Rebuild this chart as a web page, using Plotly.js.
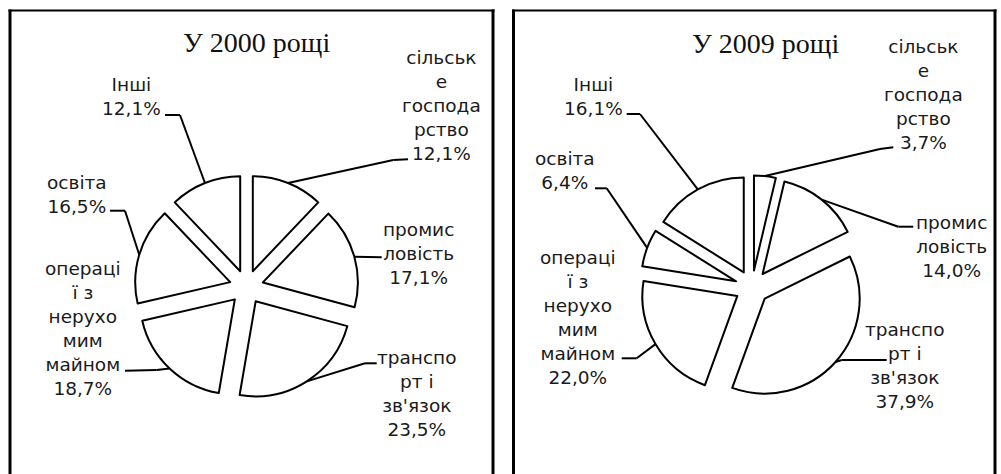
<!DOCTYPE html>
<html>
<head>
<meta charset="utf-8">
<script src="https://cdn.plot.ly/plotly-3.0.1.min.js"></script>
<style>html,body{margin:0;padding:0;background:#fff;}#chart{width:1001px;height:474px;}</style>
</head>
<body>
<div id="chart"></div>
<script>
// ---- data ----
const categories = ['сільське господарство', 'промисловість', "транспорт і зв'язок", 'операції з нерухомим майном', 'освіта', 'Інші'];
const categoryLabels = ['сільськ<br>е<br>господа<br>рство', 'промис<br>ловість', "транспо<br>рт і<br>зв'язок", 'операці<br>ї з<br>нерухо<br>мим<br>майном', 'освіта', 'Інші'];
const values2000 = [12.1, 17.1, 23.5, 18.7, 16.5, 12.1];
const values2009 = [3.7, 14.0, 37.9, 22.0, 6.4, 16.1];
const titles = ['У 2000 рощі', 'У 2009 рощі'];

// ---- layout config (pixels) ----
const W = 1001, H = 474;
const PULL = 0.179;
const panels = [
  { values: values2000, title: titles[0], titlePos: [256.7, 42],
    domainPx: { x: [134.5, 358.5], y: [175, 399] },
    labelPos: [[441.7, 105.8], [418.3, 253], [416.7, 393.8], [83.3, 328.3], [76.7, 194.7], [131, 96.5]],
    leaderA:  [[408, 159.3], [381.7, 257.3], [376.7, 363.3], [125, 370.7], [110, 210.7], [165, 115]],
    leaderB:  [[393.3, 160], [381.7, 257.3], [365, 363.3], [156.7, 370], [125, 210.7], [180, 115]] },
  { values: values2009, title: titles[1], titlePos: [765, 43],
    domainPx: { x: [640, 864], y: [175.3, 399.3] },
    labelPos: [[923.3, 94.2], [951.7, 246.3], [905, 365.8], [578.3, 317], [565, 171], [593.3, 96.7]],
    leaderA:  [[893.3, 147.3], [913.3, 226.7], [886.7, 360], [621.7, 358.3], [595, 188.3], [626.7, 114]],
    leaderB:  [[880, 149], [898.3, 226.7], [841.7, 360], [636.7, 358.3], [606.7, 188.3], [640, 114]] }
];

const px = x => x / W;
const py = y => 1 - y / H;
const fmt = v => v.toFixed(1).replace('.', ',') + '%';

const traces = [], annotations = [], shapes = [];
const labelFont = { family: 'DejaVu Sans', size: 18.5, color: '#1a1a1a' };

panels.forEach(p => {
  const dx = [px(p.domainPx.x[0]), px(p.domainPx.x[1])];
  const dy = [py(p.domainPx.y[1]), py(p.domainPx.y[0])];
  traces.push({
    type: 'pie', labels: categories, values: p.values, sort: false,
    direction: 'clockwise', rotation: 0, pull: PULL,
    textinfo: 'none', hoverinfo: 'skip', showlegend: false,
    marker: { colors: p.values.map(() => '#ffffff'), line: { color: '#000000', width: 2 } },
    domain: { x: dx, y: dy }
  });
  // pie geometry as computed by plotly
  const bw = W * (dx[1] - dx[0]), bh = H * (dy[1] - dy[0]);
  const cx = W * (dx[0] + dx[1]) / 2;
  const cy = H * (1 - dy[0]) - bh / 2;
  const r = Math.min(bw, bh) / 2 / (1 + PULL);
  const total = p.values.reduce((a, b) => a + b, 0);
  let cum = 0;
  p.values.forEach((v, i) => {
    const mid = (cum + v / 2) / total * 2 * Math.PI;
    cum += v;
    const ex = cx + r * (1 + PULL) * Math.sin(mid);
    const ey = cy - r * (1 + PULL) * Math.cos(mid);
    const A = p.leaderA[i], B = p.leaderB[i];
    const line = { color: '#000', width: 2 };
    if (A[0] !== B[0] || A[1] !== B[1]) {
      shapes.push({ type: 'line', xref: 'paper', yref: 'paper', x0: px(A[0]), y0: py(A[1]), x1: px(B[0]), y1: py(B[1]), line });
    }
    shapes.push({ type: 'line', xref: 'paper', yref: 'paper', x0: px(B[0]), y0: py(B[1]), x1: px(ex), y1: py(ey), line });
    annotations.push({
      xref: 'paper', yref: 'paper', x: px(p.labelPos[i][0]), y: py(p.labelPos[i][1]),
      xanchor: 'center', yanchor: 'middle', showarrow: false, align: 'center',
      text: categoryLabels[i] + '<br>' + fmt(v), font: labelFont
    });
  });
  annotations.push({
    xref: 'paper', yref: 'paper', x: px(p.titlePos[0]), y: py(p.titlePos[1]),
    xanchor: 'center', yanchor: 'middle', showarrow: false,
    text: p.title, font: { family: 'Liberation Serif', size: 28, color: '#111' }
  });
});

// panel frames
const frame = (x0, x1) => {
  shapes.push({ type: 'line', xref: 'paper', yref: 'paper', x0: px(x0 - 1.5), x1: px(x1 + 1.5), y0: py(10.5), y1: py(10.5), line: { color: '#000', width: 2 } });
  shapes.push({ type: 'line', xref: 'paper', yref: 'paper', x0: px(x0), x1: px(x0), y0: py(9.5), y1: py(480), line: { color: '#000', width: 3 } });
  shapes.push({ type: 'line', xref: 'paper', yref: 'paper', x0: px(x1), x1: px(x1), y0: py(9.5), y1: py(480), line: { color: '#000', width: 3 } });
};
frame(10, 493);
frame(513.5, 995);

Plotly.newPlot('chart', traces, {
  width: W, height: H, margin: { l: 0, r: 0, t: 0, b: 0 },
  paper_bgcolor: '#fff', plot_bgcolor: '#fff',
  annotations, shapes
}, { staticPlot: true });
</script>
</body>
</html>
